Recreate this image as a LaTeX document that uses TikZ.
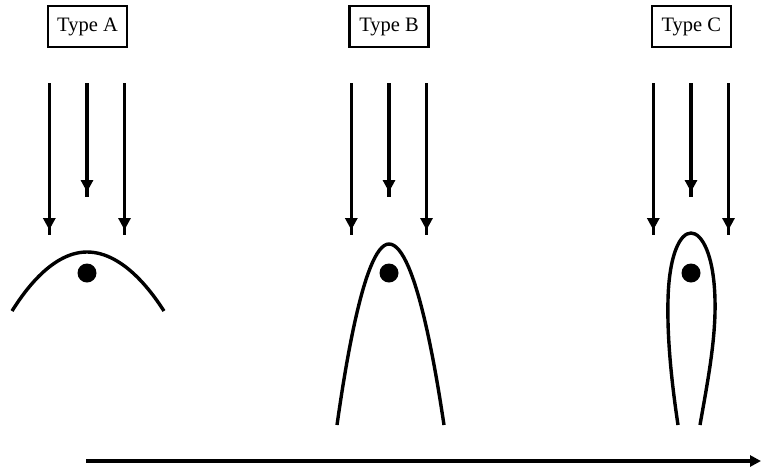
\documentclass[tikz,border=0pt]{standalone}
\usepackage{fontspec}
\setmainfont{Liberation Serif}
\usetikzlibrary{arrows.meta,decorations.markings}
\tikzset{
  lbl/.style={draw, line width=2.4pt, minimum width=79pt, minimum height=41pt, inner sep=0pt, font=\fontsize{20.5}{24}\selectfont},
  flow/.style={line width=3.3pt, postaction={decorate}, decoration={markings, mark=at position -5pt with {\arrow{Triangle[width=12pt,length=12pt]}}}},
  body/.style={line width=3.4pt},
  blob/.style={circle, fill, inner sep=0pt, minimum size=19pt},
  axis/.style={line width=3.3pt, -{Triangle[width=11pt,length=11pt]}},
}
\begin{document}
\begin{tikzpicture}[x=1pt,y=-1pt]
\useasboundingbox (0,0) rectangle (761,472);
% labels
\node[lbl] (ta) at (87.5,26.5) {Type A};
\node[lbl] (tb) at (389,26.5) {Type B};
\node[lbl] (tc) at (691.3,26.5) {Type C};
% flow arrows
\foreach \n/\x in {a/87, b/389, c/691}{
  \coordinate (\n ls) at (\x-37.7,83);
  \coordinate (\n le) at (\x-37.7,235);
  \coordinate (\n ms) at (\x,83);
  \coordinate (\n me) at (\x,197);
  \coordinate (\n rs) at (\x+37.5,83);
  \coordinate (\n re) at (\x+37.5,235);
  \draw[flow] (\n ls) -- (\n le);
  \draw[flow] (\n ms) -- (\n me);
  \draw[flow] (\n rs) -- (\n re);
}
% bodies
\draw[body] (12,311) parabola bend (87,252) (164,311);
\draw[body] (337,425) parabola bend (389,244) (444,425);
\draw[body] (678,425) .. controls (672,385) and (667,340) .. (668,300)
  .. controls (669,255) and (680,233) .. (691,233)
  .. controls (702,233) and (714,255) .. (715,300)
  .. controls (716,340) and (707,385) .. (700,425);
% dots
\node[blob] (da) at (87,273) {};
\node[blob] (db) at (389,273) {};
\node[blob] (dc) at (691,273) {};
% axis
\coordinate (xs) at (86,461);
\coordinate (xe) at (761,461);
\draw[axis] (xs) -- (xe);
\end{tikzpicture}
\end{document}
